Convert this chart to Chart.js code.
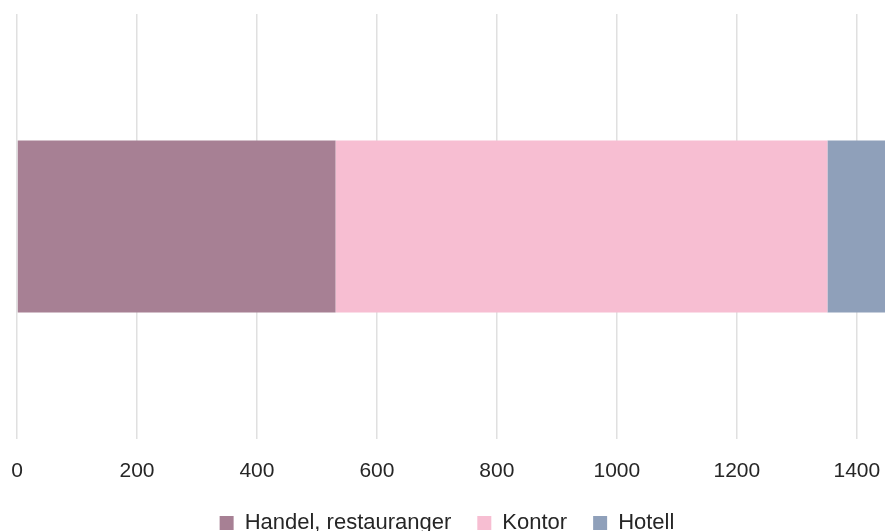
<!DOCTYPE html>
<html>
<head>
<meta charset="utf-8">
<script src="https://cdn.jsdelivr.net/npm/chart.js@4/dist/chart.umd.min.js"></script>
<style>
  html, body { margin: 0; padding: 0; background: #fff; overflow: hidden; }
  #wrap { width: 885px; height: 540px; position: relative; }
</style>
</head>
<body>
<div id="wrap"><canvas id="chart"></canvas></div>
<script>
// Data
const categories = [''];
const seriesNames = ['Handel, restauranger', 'Kontor', 'Hotell'];
const handel = [531];
const kontor = [820];
const hotell = [100];
const xTicks = [0, 200, 400, 600, 800, 1000, 1200, 1400];
const colors = ['#a78094', '#f7bed2', '#8fa0ba'];

const fontFamily = '"Liberation Sans", Arial, sans-serif';

new Chart(document.getElementById('chart'), {
    type: 'bar',
    data: {
        labels: categories,
        datasets: [handel, kontor, hotell].map((vals, i) => ({
            label: seriesNames[i],
            data: vals,
            backgroundColor: colors[i],
            borderWidth: 0,
            barPercentage: 0.405,
            categoryPercentage: 1
        }))
    },
    options: {
        indexAxis: 'y',
        responsive: true,
        maintainAspectRatio: false,
        animation: false,
        layout: { padding: { left: 9, right: 0, top: 14, bottom: 0 } },
        scales: {
            x: {
                stacked: true,
                min: 0,
                max: 1447,
                afterBuildTicks: scale => {
                    scale.ticks = xTicks.map(v => ({ value: v }));
                },
                afterFit: scale => {
                    // the bar runs off the right edge, so no room kept for tick labels
                    scale.paddingLeft = 0;
                    scale.paddingRight = 0;
                    scale.height -= 18;
                },
                grid: { color: '#e0e0e0', lineWidth: 1.5, drawTicks: false },
                border: { display: false },
                ticks: {
                    padding: 20,
                    color: '#262626',
                    maxRotation: 0,
                    callback: v => String(v),
                    font: { family: fontFamily, size: 21 }
                }
            },
            y: {
                stacked: true,
                grid: { display: false },
                border: { display: false },
                ticks: { display: false }
            }
        },
        plugins: {
            legend: {
                position: 'bottom',
                maxHeight: 54,
                labels: {
                    boxWidth: 14,
                    boxHeight: 14,
                    padding: 26,
                    color: '#262626',
                    font: { family: fontFamily, size: 22 }
                }
            },
            tooltip: { enabled: false }
        }
    }
});
</script>
</body>
</html>
